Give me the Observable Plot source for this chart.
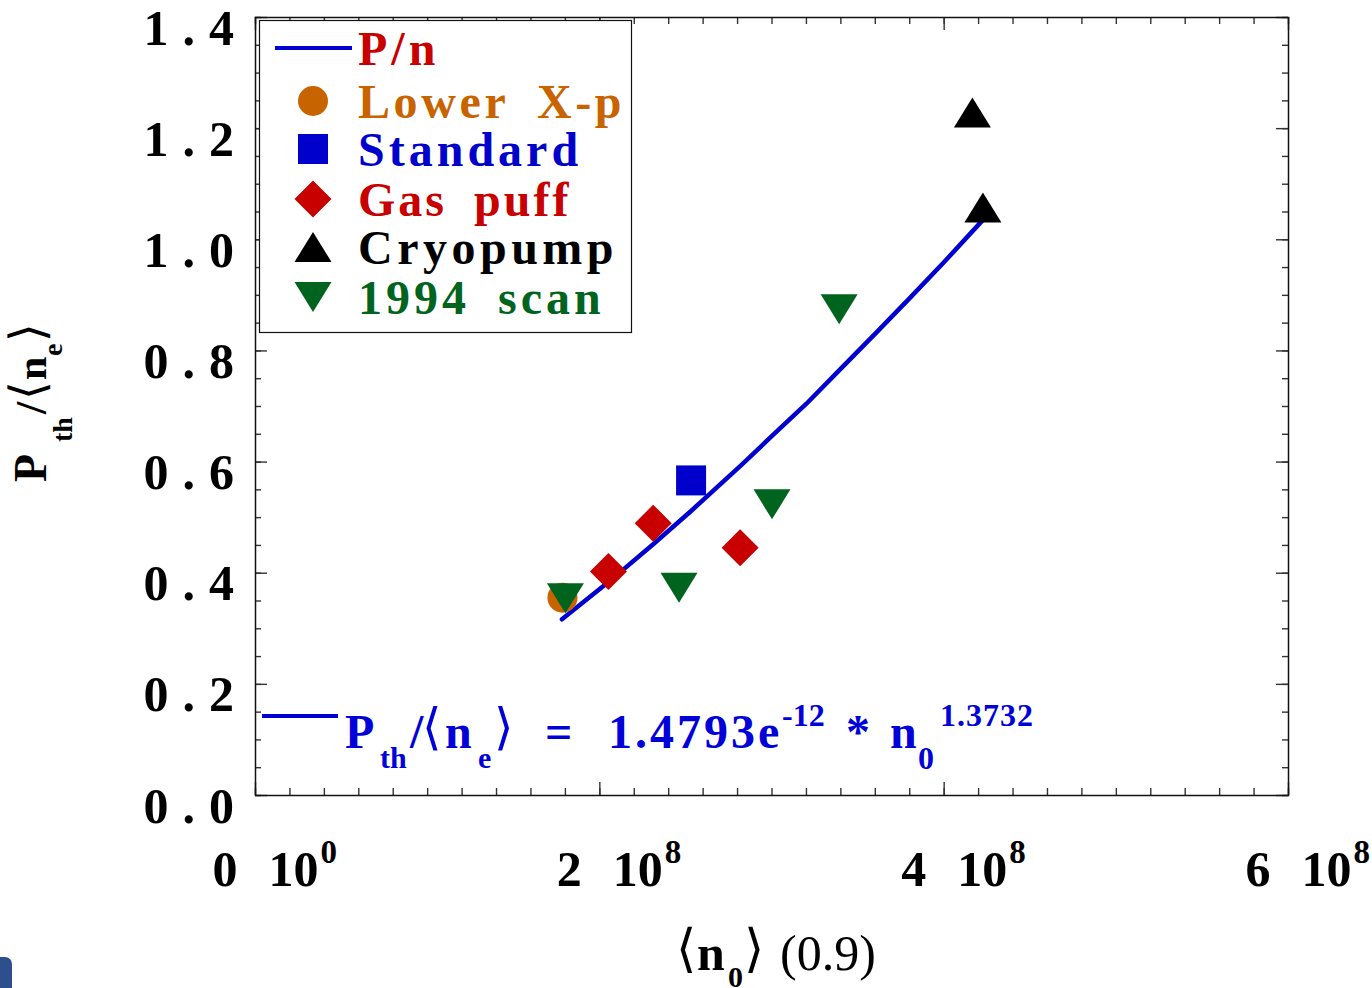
<!DOCTYPE html>
<html><head><meta charset="utf-8">
<script src="https://cdn.jsdelivr.net/npm/d3@7"></script>
<script src="https://cdn.jsdelivr.net/npm/@observablehq/plot@0.6"></script>
<style>
html,body{margin:0;padding:0;background:#fff;}
#chart{width:1372px;height:988px;overflow:hidden;position:relative;}
</style></head><body><div id="chart"></div>
<script>
// ---------- data ----------
const xTicks = [0, 2e8, 4e8, 6e8];
const xTickDigits = ["0", "2", "4", "6"];
const xTickExps = ["0", "8", "8", "8"];
const yTicks = [0, 0.2, 0.4, 0.6, 0.8, 1.0, 1.2, 1.4];
const yTickLabels = ["0.0", "0.2", "0.4", "0.6", "0.8", "1.0", "1.2", "1.4"];

const lowerXpN0 = [1.783e8];
const lowerXpP  = [0.356];
const standardN0 = [2.53e8];
const standardP  = [0.567];
const gasPuffN0 = [2.05e8, 2.31e8, 2.815e8];
const gasPuffP  = [0.403, 0.490, 0.446];
const cryopumpN0 = [4.164e8, 4.225e8];
const cryopumpP  = [1.229, 1.058];
const scan1994N0 = [1.80e8, 2.46e8, 3.00e8, 3.39e8];
const scan1994P  = [0.355, 0.374, 0.524, 0.875];

// fit line P/n
const fitN0 = [1.78e8, 2.05e8, 2.31e8, 2.53e8, 2.82e8, 3.00e8, 3.20e8, 3.39e8, 3.60e8, 3.80e8, 4.00e8, 4.22e8];
const fitP  = [0.317, 0.384, 0.452, 0.512, 0.594, 0.647, 0.705, 0.765, 0.831, 0.895, 0.960, 1.034];

const legendLabels = ["Lower\u2002X-p", "Standard", "Gas\u2002puff", "Cryopump", "1994\u2002scan"];
const fitLegendLabel = "P/n";

// ---------- styling ----------
const red = "#c80000", orange = "#c86400", blue = "#0000cc", green = "#00641e", black = "#000000";
const lineBlue = "#0000d0";
const serif = "'Liberation Serif', 'Times New Roman', Times, serif";

const W = 1372, H = 988, mL = 255, mR = 84, mT = 17, mB = 193;
const fw = W - mL - mR, fh = H - mT - mB;

function sym(fn) { return {draw(ctx, size) { const r = Math.sqrt(size / Math.PI); fn(ctx, r); }}; }
const symCircle = sym((c, r) => { c.moveTo(r, 0); c.arc(0, 0, r, 0, 2 * Math.PI); c.closePath(); });
const symSquare = sym((c, r) => { c.moveTo(-r, -r); c.lineTo(r, -r); c.lineTo(r, r); c.lineTo(-r, r); c.closePath(); });
const symDiamond = sym((c, r) => { c.moveTo(0, -r); c.lineTo(r, 0); c.lineTo(0, r); c.lineTo(-r, 0); c.closePath(); });
const symTriUp = sym((c, r) => { const h = r * 0.81; c.moveTo(0, -h); c.lineTo(r, h); c.lineTo(-r, h); c.closePath(); });
const symTriDown = sym((c, r) => { const h = r * 0.81; c.moveTo(-r, -h); c.lineTo(r, -h); c.lineTo(0, h); c.closePath(); });

const table = (xs, ys) => xs.map((n, i) => ({n0: n, p: ys[i]}));
const fit = table(fitN0, fitP);
const lowerXp = table(lowerXpN0, lowerXpP);
const standard = table(standardN0, standardP);
const gasPuff = table(gasPuffN0, gasPuffP);
const cryopump = table(cryopumpN0, cryopumpP);
const scan1994 = table(scan1994N0, scan1994P);

const xMinor = d3.range(0, 6e8 + 1, 2e7);
const yMinor = d3.range(0, 1.4001, 0.05);
const tickStyle = {stroke: "#333", strokeWidth: 1.4};

const plot = Plot.plot({
  width: W, height: H,
  marginLeft: mL, marginRight: mR, marginTop: mT, marginBottom: mB,
  x: {domain: [0, 6e8], axis: null},
  y: {domain: [0, 1.4], axis: null},
  style: {fontFamily: serif, background: "white", overflow: "visible"},
  marks: [
    Plot.tickX(xMinor, {x: d => d, insetTop: fh - 7, ...tickStyle}),
    Plot.tickX(xMinor, {x: d => d, insetBottom: fh - 7, ...tickStyle}),
    Plot.tickX(xTicks, {x: d => d, insetTop: fh - 13, ...tickStyle}),
    Plot.tickX(xTicks, {x: d => d, insetBottom: fh - 13, ...tickStyle}),
    Plot.tickY(yMinor, {y: d => d, insetRight: fw - 6, ...tickStyle}),
    Plot.tickY(yMinor, {y: d => d, insetLeft: fw - 6, ...tickStyle}),
    Plot.tickY(yTicks, {y: d => d, insetRight: fw - 12, ...tickStyle}),
    Plot.tickY(yTicks, {y: d => d, insetLeft: fw - 12, ...tickStyle}),
    Plot.frame({stroke: "#111", strokeWidth: 1.5}),
    Plot.line(fit, {x: "n0", y: "p", stroke: lineBlue, strokeWidth: 4.5, strokeLinecap: "round", strokeLinejoin: "round"}),
    Plot.dot(lowerXp, {x: "n0", y: "p", symbol: symCircle, r: 15, fill: orange, stroke: "none"}),
    Plot.dot(standard, {x: "n0", y: "p", symbol: symSquare, r: 15, fill: blue, stroke: "none"}),
    Plot.dot(gasPuff, {x: "n0", y: "p", symbol: symDiamond, r: 18.5, fill: red, stroke: "none"}),
    Plot.dot(cryopump, {x: "n0", y: "p", symbol: symTriUp, r: 18.5, fill: black, stroke: "none"}),
    Plot.dot(scan1994, {x: "n0", y: "p", symbol: symTriDown, r: 18.5, fill: green, stroke: "none"}),
    // tick labels
    Plot.text(yTicks, {y: d => d, text: (d, i) => yTickLabels[i], frameAnchor: "left", textAnchor: "start",
      dx: -112, dy: 11, fontSize: 50, fontWeight: "bold", fill: "black"}),
    Plot.text(xTicks, {x: d => d, text: (d, i) => xTickDigits[i], frameAnchor: "bottom", lineAnchor: "bottom",
      textAnchor: "start", dx: -43, dy: 90, fontSize: 50, fontWeight: "bold", fill: "black"}),
    Plot.text(xTicks, {x: d => d, text: () => "10", frameAnchor: "bottom", lineAnchor: "bottom",
      textAnchor: "start", dx: 13, dy: 90, fontSize: 50, fontWeight: "bold", fill: "black"}),
    Plot.text(xTicks, {x: d => d, text: (d, i) => xTickExps[i], frameAnchor: "bottom", lineAnchor: "bottom",
      textAnchor: "start", dx: 65, dy: 67, fontSize: 33, fontWeight: "bold", fill: "black"})
  ]
});

document.getElementById("chart").appendChild(plot);
const svg = d3.select(plot.tagName.toLowerCase() === "svg" ? plot : plot.querySelector("svg"));
svg.selectAll("text").filter(function() { return yTickLabels.includes(this.textContent); })
  .attr("letter-spacing", "14px").style("letter-spacing", "14px");

// ---------- legend ----------
const lg = svg.append("g").attr("font-family", serif).attr("font-weight", "bold").attr("font-size", 48)
  .attr("text-anchor", "start");
lg.append("rect").attr("x", 259.5).attr("y", 20.5).attr("width", 372).attr("height", 312)
  .attr("fill", "white").attr("stroke", "#111").attr("stroke-width", 1.2);
lg.append("line").attr("x1", 275).attr("x2", 352).attr("y1", 48).attr("y2", 48)
  .attr("stroke", lineBlue).attr("stroke-width", 4);
lg.append("text").attr("x", 358).attr("y", 65).attr("fill", red).attr("letter-spacing", "4px").text(fitLegendLabel);
const legendSyms = [
  {s: symCircle, r: 15, c: orange, ls: 3.6},
  {s: symSquare, r: 15, c: blue, ls: 4},
  {s: symDiamond, r: 18.5, c: red, ls: 3},
  {s: symTriUp, r: 18.5, c: black, ls: 4.5},
  {s: symTriDown, r: 18.5, c: green, ls: 4}
];
const legendRowY = [101, 149, 199, 247, 297];
legendSyms.forEach((d, i) => {
  lg.append("path").attr("d", d3.symbol(d.s, Math.PI * d.r * d.r)())
    .attr("transform", `translate(313,${legendRowY[i]})`).attr("fill", d.c);
  lg.append("text").attr("x", 358).attr("y", legendRowY[i] + 17).attr("fill", d.c)
    .attr("letter-spacing", d.ls + "px").text(legendLabels[i]);
});

// ---------- equation annotation ----------
const eq = svg.append("g").attr("font-family", serif).attr("font-weight", "bold").attr("fill", "#0000d8")
  .attr("text-anchor", "start");
eq.append("line").attr("x1", 262).attr("x2", 338).attr("y1", 716).attr("y2", 716)
  .attr("stroke", lineBlue).attr("stroke-width", 4);
const brk = "'DejaVu Serif', 'DejaVu Sans', serif";
const eqParts = [
  {t: "P", x: 345, y: 748, s: 48},
  {t: "th", x: 380, y: 768, s: 30},
  {t: "/", x: 410, y: 748, s: 48},
  {t: "\u27E8", x: 422, y: 744, s: 50, f: brk, w: "normal"},
  {t: "n", x: 445, y: 748, s: 48},
  {t: "e", x: 478, y: 768, s: 30},
  {t: "\u27E9", x: 494, y: 744, s: 50, f: brk, w: "normal"},
  {t: "=", x: 545, y: 748, s: 48},
  {t: "1.4793e", x: 608, y: 748, s: 48, ls: 3},
  {t: "-12", x: 782, y: 726, s: 32},
  {t: "*", x: 846, y: 748, s: 48},
  {t: "n", x: 890, y: 748, s: 48},
  {t: "0", x: 918, y: 769, s: 32},
  {t: "1.3732", x: 940, y: 726, s: 32, ls: 1}
];
eqParts.forEach(p => {
  const t = eq.append("text").attr("x", p.x).attr("y", p.y).attr("font-size", p.s).text(p.t);
  if (p.f) t.attr("font-family", p.f);
  if (p.w) t.attr("font-weight", p.w);
  if (p.ls) t.attr("letter-spacing", p.ls + "px");
});

// ---------- x axis title ----------
const xt = svg.append("g").attr("font-family", serif).attr("fill", "black").attr("text-anchor", "start");
[
  {t: "\u27E8", x: 676, y: 966, s: 52, f: brk, w: "normal"},
  {t: "n", x: 697, y: 970, s: 50, w: "bold"},
  {t: "0", x: 728, y: 987, s: 30, w: "bold"},
  {t: "\u27E9", x: 744, y: 966, s: 52, f: brk, w: "normal"},
  {t: "(0.9)", x: 780, y: 970, s: 50, w: "normal"}
].forEach(p => {
  const t = xt.append("text").attr("x", p.x).attr("y", p.y).attr("font-size", p.s).attr("font-weight", p.w).text(p.t);
  if (p.f) t.attr("font-family", p.f);
});

// ---------- y axis title (rotated) ----------
const yt = svg.append("g").attr("font-family", serif).attr("fill", "black").attr("text-anchor", "start")
  .attr("transform", "translate(46,482) rotate(-90)");
[
  {t: "P", x: 0, y: 0, s: 46, w: "bold"},
  {t: "th", x: 40, y: 26, s: 28, w: "bold"},
  {t: "/", x: 68, y: 0, s: 44, w: "bold"},
  {t: "\u27E8", x: 82, y: -2, s: 48, f: brk, w: "normal"},
  {t: "n", x: 102, y: 0, s: 42, w: "bold"},
  {t: "e", x: 126, y: 16, s: 28, w: "bold"},
  {t: "\u27E9", x: 140, y: -2, s: 48, f: brk, w: "normal"}
].forEach(p => {
  const t = yt.append("text").attr("x", p.x).attr("y", p.y).attr("font-size", p.s).attr("font-weight", p.w).text(p.t);
  if (p.f) t.attr("font-family", p.f);
});

// small artifact at the bottom-left corner of the reference
svg.append("rect").attr("x", -12).attr("y", 957).attr("width", 24).attr("height", 50).attr("rx", 7).attr("fill", "#2d4f8e");
</script>
</body></html>
